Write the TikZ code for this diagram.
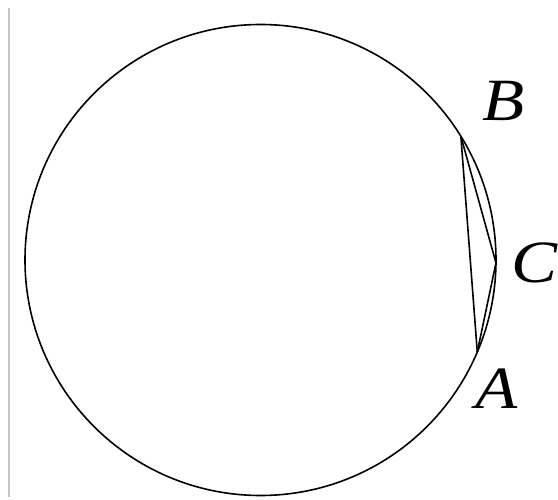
\documentclass[tikz,border=0pt]{standalone}
\usepackage{fontspec}
\setmainfont{Liberation Serif}
\usetikzlibrary{calc}
\begin{document}
\begin{tikzpicture}[x=1pt,y=-1pt,
  lbl/.style={font=\fontsize{60}{60}\selectfont\itshape, inner sep=0pt, xscale=1.15},
  edge/.style={line width=1.6pt, black}]
\useasboundingbox (0,0) rectangle (558,500);
\draw[line width=1.8pt, gray!45] (9,8) -- (9,497);
\coordinate (O) at (260.5,260);
\draw[edge] (O) circle[radius=235.5];
\coordinate (B) at ($(O)+(-31.7:235.5)$);
\coordinate (C) at ($(O)+(0.7:235.5)$);
\coordinate (A) at ($(O)+(23:235.5)$);
\draw[edge] (B) -- (A);
\draw[edge] (B) -- (C) -- (A);
\node[lbl] (lB) at (504,101) {B};
\node[lbl] (lC) at (535,263) {C};
\node[lbl] (lA) at (497,389) {A};
\end{tikzpicture}
\end{document}
